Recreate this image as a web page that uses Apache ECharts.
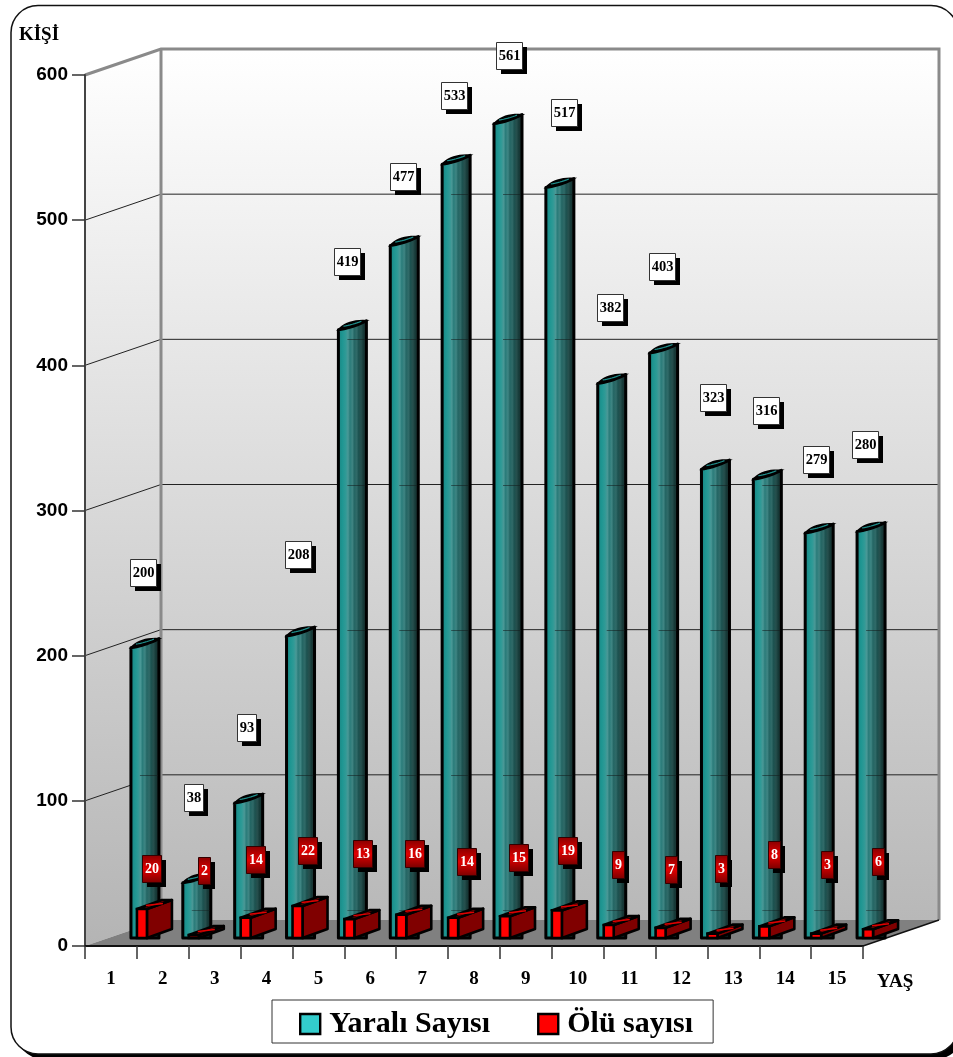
<!DOCTYPE html>
<html>
<head>
<meta charset="utf-8">
<script src="https://cdn.jsdelivr.net/npm/echarts@6/dist/echarts.min.js"></script>
<style>
html,body{margin:0;padding:0;background:#fff}
#chart{width:953px;height:1057px}
</style>
</head>
<body>
<div id="chart"></div>
<script>
// Age groups and casualty counts
const ages = ['1','2','3','4','5','6','7','8','9','10','11','12','13','14','15'];
const injured = [200,38,93,208,419,477,533,561,517,382,403,323,316,279,280];
const dead = [20,2,14,22,13,16,14,15,19,9,7,3,8,3,6];
const gridValues = [100,200,300,400,500];

// Hand-placed callouts, as offsets from each mark's anchor on the axes
const injuredLabelShift = [[32,-83],[31,-93],[32,-83],[31,-90],[29,-76],[32.5,-77.5],[32,-77],[35,-76.6],[38,-82.5],[32,-83.5],[32,-94],[32,-80],[33,-77],[31,-81],[27.5,-95.5]];
const deadLabelShift = [[40.5,-48],[41,-73],[40.7,-66],[41,-64],[44,-73.5],[44.5,-69],[44.6,-63.7],[44.7,-67],[41.8,-68.4],[40,-68],[41,-66],[40,-73.6],[41,-80],[42,-77.6],[41.4,-75.3]];

// Projection of the box depth onto the page
const depth = {x: 76, y: -26};
const rowLift = 8;

function stops(list) {
  return list.map(s => ({offset: s[0], color: s[1]}));
}
const tealStrip = {
  type: 'linear', x: 0, y: 0, x2: 1, y2: 0,
  colorStops: stops([
    [0,'#17807d'],[0.18,'#1f9692'],[0.28,'#2f9a96'],[0.36,'#4a9896'],[0.42,'#2a7c7a'],
    [0.5,'#3f8583'],[0.56,'#246664'],[0.64,'#306a68'],[0.7,'#1c5250'],[0.78,'#264f4d'],
    [0.85,'#163a38'],[0.93,'#1c302f'],[1,'#142222']
  ])
};
const wallFill = {
  type: 'linear', x: 0, y: 0, x2: 0, y2: 1,
  colorStops: stops([[0,'#ffffff'],[1,'#b8b8b8']])
};
const sideFill = {
  type: 'linear', x: 0, y: 0, x2: 0, y2: 1,
  colorStops: stops([[0,'#ffffff'],[1,'#b4b4b4']])
};
const redCallout = {
  type: 'linear', x: 0, y: 0, x2: 0, y2: 1,
  colorStops: stops([[0,'#8a0000'],[0.5,'#e00000'],[1,'#7a0000']])
};

function arc(a, c, b, n) {
  const out = [];
  for (let k = 0; k <= n; k++) {
    const t = k / n, u = 1 - t;
    out.push([u*u*a[0] + 2*u*t*c[0] + t*t*b[0], u*u*a[1] + 2*u*t*c[1] + t*t*b[1]]);
  }
  return out;
}

function callout(text, cx, cy, boxFill, textFill, edge, fontSize) {
  const w = text.length * 7 + 5, h = 27;
  const l = Math.round(cx - w / 2), t = Math.round(cy - h / 2);
  return [
    {type:'rect', shape:{x:l+5,y:t+5,width:w,height:h}, style:{fill:'#000'}, z2:20},
    {type:'rect', shape:{x:l+.5,y:t+.5,width:w,height:h}, style:{fill:boxFill,stroke:edge,lineWidth:1}, z2:21},
    {type:'text', x:l+w/2+.5, y:t+h/2+.5, z2:22, style:{text:text,fill:textFill,font:'bold '+fontSize+'px "Liberation Serif"',align:'center',verticalAlign:'middle'}}
  ];
}

function renderBox(params, api) {
  const w = api.size([1,0])[0];
  const left = api.coord([0,0])[0] - w/2;
  const right = left + w * ages.length;
  const yOf = v => api.coord([0,v])[1];
  const y0 = yOf(0), yTop = yOf(600);
  const c = [];
  c.push({type:'polygon', shape:{points:[[left,yTop],[left+depth.x,yTop+depth.y],[left+depth.x,y0+depth.y],[left,y0]]}, style:{fill:sideFill}});
  c.push({type:'rect', shape:{x:left+depth.x,y:yTop+depth.y,width:right-left,height:y0-yTop}, style:{fill:wallFill}});
  c.push({type:'polygon', shape:{points:[[left,y0],[right,y0],[right+depth.x,y0+depth.y],[left+depth.x,y0+depth.y]]}, style:{fill:'#808080'}});
  gridValues.forEach(v => {
    const y = yOf(v);
    c.push({type:'polyline', shape:{points:[[left,y],[left+depth.x,y+depth.y],[right+depth.x,y+depth.y]]}, style:{fill:null,stroke:'#222',lineWidth:1}});
  });
  c.push({type:'polyline', shape:{points:[[left,yTop],[left+depth.x,yTop+depth.y],[right+depth.x,yTop+depth.y],[right+depth.x,y0+depth.y]]}, style:{fill:null,stroke:'#8a8a8a',lineWidth:3}});
  c.push({type:'line', shape:{x1:left+depth.x,y1:yTop+depth.y,x2:left+depth.x,y2:y0+depth.y}, style:{stroke:'#8a8a8a',lineWidth:3}});
  c.push({type:'line', shape:{x1:right,y1:y0,x2:right+depth.x,y2:y0+depth.y}, style:{stroke:'#111',lineWidth:1.5}});
  return {type:'group', children:c};
}

function renderInjured(params, api) {
  const i = params.dataIndex, v = api.value(1);
  const p = api.coord([i, v]);
  const base = api.coord([i, 0])[1] - rowLift;
  const yt = p[1] - rowLift;
  const x0 = p[0] + 20, x1 = p[0] + 48;
  const lens = 9;
  const under = arc([x0,yt],[x0+14,yt-2],[x1,yt-lens],10);
  const over = arc([x1,yt-lens],[x0+9,yt-lens-1],[x0,yt],10);
  const c = [];
  c.push({type:'polygon', shape:{points:[[x0,base]].concat(under,[[x1,base]])},
    style:{fill:tealStrip,stroke:'#000',lineWidth:3,lineJoin:'round'}});
  c.push({type:'polygon', shape:{points:under.concat(over)}, style:{fill:'#000',stroke:'#000',lineWidth:1.6}});
  c.push({type:'polyline', shape:{points:arc([x0+5,yt-3.5],[x0+14,yt-5],[x1-5,yt-lens+.5],8)}, style:{fill:null,stroke:'#1f8f8c',lineWidth:1.2}});
  gridValues.forEach(g => {
    const y = Math.round(api.coord([i,g])[1] + depth.y) + .5;
    if (y > yt + 2) c.push({type:'line', shape:{x1:x0+9,y1:y,x2:x1-1,y2:y}, style:{stroke:'rgba(20,30,30,.55)',lineWidth:1}});
  });
  const collar = Math.round(base - 28) + .5;
  if (yt < collar) c.push({type:'line', shape:{x1:x0+9,y1:collar,x2:x1-1,y2:collar}, style:{stroke:'rgba(20,30,30,.45)',lineWidth:1}});
  const s = injuredLabelShift[i];
  callout(String(v), p[0]+s[0], p[1]+s[1], '#fff', '#000', '#333', 14.5).forEach(e => c.push(e));
  return {type:'group', children:c};
}

function renderDead(params, api) {
  const i = params.dataIndex, v = api.value(1);
  const p = api.coord([i, v]);
  const base = api.coord([i, 0])[1] - rowLift;
  const yt = p[1] - rowLift;
  const x0 = p[0] + 26, x1 = p[0] + 36;
  const dx = 25, dy = -9;
  const c = [];
  c.push({type:'polygon', shape:{points:[[x1,yt],[x1+dx,yt+dy],[x1+dx,base+dy],[x1,base]]}, style:{fill:'#800000',stroke:'#000',lineWidth:2.6,lineJoin:'round'}});
  c.push({type:'polygon', shape:{points:[[x0,yt],[x1,yt],[x1+dx,yt+dy],[x0+dx,yt+dy]]}, style:{fill:'#800000',stroke:'#000',lineWidth:2.6,lineJoin:'round'}});
  c.push({type:'line', shape:{x1:x0+9,y1:yt-3.5,x2:x1+dx-9,y2:yt+dy+3.5}, style:{stroke:'#e00000',lineWidth:1.5}});
  c.push({type:'rect', shape:{x:x0,y:yt,width:x1-x0,height:base-yt}, style:{fill:'#ff0000',stroke:'#000',lineWidth:2.6}});
  const s = deadLabelShift[i];
  callout(String(v), p[0]+s[0], p[1]+s[1], redCallout, '#fff', '#300', 14).forEach(e => c.push(e));
  return {type:'group', children:c};
}

const chart = echarts.init(document.getElementById('chart'), null, {renderer:'canvas'});
chart.setOption({
  animation: false,
  backgroundColor: '#fff',
  graphic: [
    {type:'rect', z:-2, shape:{x:16,y:10,width:947,height:1049,r:27}, style:{fill:'#000'}},
    {type:'rect', z:-1, shape:{x:11,y:5.5,width:947,height:1048.5,r:27}, style:{fill:'#fff',stroke:'#111',lineWidth:1.5}}
  ],
  grid: {left:85, right:90, top:75, height:871},
  xAxis: {
    type:'category', data:ages, z:5,
    name:'YAŞ', nameLocation:'end', nameGap:14,
    nameTextStyle:{fontFamily:'Liberation Serif',fontWeight:'bold',fontSize:19,color:'#000',align:'left',verticalAlign:'top',padding:[27,0,0,0]},
    axisLine:{show:true,lineStyle:{color:'#111',width:2}},
    axisTick:{show:true,length:13,alignWithLabel:false,lineStyle:{color:'#333',width:1.5}},
    axisLabel:{margin:24,color:'#000',fontFamily:'Liberation Serif',fontWeight:'bold',fontSize:19}
  },
  yAxis: {
    type:'value', min:0, max:600, interval:100, z:5,
    name:'KİŞİ', nameLocation:'end', nameGap:30,
    nameTextStyle:{fontFamily:'Liberation Serif',fontWeight:'bold',fontSize:19,color:'#000',align:'center',padding:[0,0,0,-92]},
    axisLine:{show:true,lineStyle:{color:'#444',width:2}},
    axisTick:{show:true,length:13,lineStyle:{color:'#333',width:1.5}},
    axisLabel:{margin:17,color:'#000',fontFamily:'Liberation Sans',fontWeight:'bold',fontSize:19,padding:[3,0,0,0]},
    splitLine:{show:false}
  },
  legend: {
    left:272, top:1000, orient:'horizontal',
    padding:[9,20,4,27], itemGap:47, itemWidth:20, itemHeight:20,
    backgroundColor:'#fff', borderColor:'#333', borderWidth:1,
    selectedMode:false,
    textStyle:{fontFamily:'Liberation Serif',fontWeight:'bold',fontSize:30,color:'#000',lineHeight:23,padding:[5,0,0,4]},
    data:[
      {name:'Yaralı Sayısı', icon:'rect', itemStyle:{color:'#33cccc',borderColor:'#000',borderWidth:2.4}},
      {name:'Ölü sayısı', icon:'rect', itemStyle:{color:'#ff0000',borderColor:'#000',borderWidth:2.4}}
    ]
  },
  series: [
    {type:'custom', name:'box', z:1, renderItem:renderBox, data:[[0,0]], silent:true, clip:false, encode:{x:0,y:1}},
    {type:'custom', name:'Yaralı Sayısı', z:2, renderItem:renderInjured, clip:false, itemStyle:{color:'#33cccc'},
      data:injured.map((v,i)=>[i,v]), encode:{x:0,y:1}},
    {type:'custom', name:'Ölü sayısı', z:3, renderItem:renderDead, clip:false, itemStyle:{color:'#ff0000'},
      data:dead.map((v,i)=>[i,v]), encode:{x:0,y:1}}
  ]
});
</script>
</body>
</html>
